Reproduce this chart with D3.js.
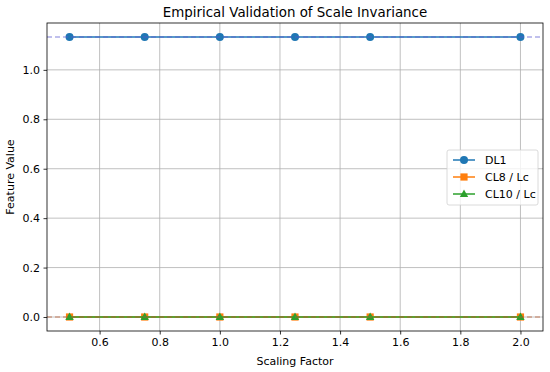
<!DOCTYPE html>
<html>
<head>
<meta charset="utf-8">
<script src="https://cdn.jsdelivr.net/npm/d3@7"></script>
<style>
  body { margin: 0; background: #fff; }
  text { font-family: "DejaVu Sans", sans-serif; fill: #000; }
</style>
</head>
<body>
<div id="chart"></div>
<script>
// data
const scales = [0.5, 0.75, 1.0, 1.25, 1.5, 2.0];
const dl1 = [1.133, 1.133, 1.133, 1.133, 1.133, 1.133];
const cl8 = [0, 0, 0, 0, 0, 0];
const cl10 = [0, 0, 0, 0, 0, 0];
const xTicks = [0.6, 0.8, 1.0, 1.2, 1.4, 1.6, 1.8, 2.0];
const yTicks = [0.0, 0.2, 0.4, 0.6, 0.8, 1.0];
const refLines = [{v: 1.133, color: "#5a5ad0"}, {v: 0, color: "#b8582e"}];

const series = [
    {name: "DL1", values: dl1, color: "#1f77b4", marker: "circle"},
    {name: "CL8 / Lc", values: cl8, color: "#ff7f0e", marker: "square"},
    {name: "CL10 / Lc", values: cl10, color: "#2ca02c", marker: "triangle"}
];

const width = 550, height = 372;
const m = {left: 47, right: 7, top: 23, bottom: 41};

const svg = d3.select("#chart").append("svg")
    .attr("width", width).attr("height", height);

const x = d3.scaleLinear().domain([0.425, 2.075]).range([m.left, width - m.right]);
const y = d3.scaleLinear().domain([-0.05665, 1.18965]).range([height - m.bottom, m.top]);

// grid
svg.append("g").selectAll("line").data(xTicks).enter().append("line")
    .attr("x1", d => x(d)).attr("x2", d => x(d))
    .attr("y1", m.top).attr("y2", height - m.bottom)
    .attr("stroke", "#b0b0b0").attr("stroke-width", 0.8);
svg.append("g").selectAll("line").data(yTicks).enter().append("line")
    .attr("y1", d => y(d)).attr("y2", d => y(d))
    .attr("x1", m.left).attr("x2", width - m.right)
    .attr("stroke", "#b0b0b0").attr("stroke-width", 0.8);

const line = d3.line().x(d => x(d[0])).y(d => y(d[1]));

function marker(g, type, color) {
    if (type == "circle") {
        g.append("circle").attr("r", 4).attr("fill", color);
    } else if (type == "square") {
        g.append("rect").attr("x", -3.6).attr("y", -3.6).attr("width", 7.2).attr("height", 7.2).attr("fill", color);
    } else {
        g.append("path").attr("d", "M0,-4.5L4.2,3L-4.2,3Z").attr("fill", color);
    }
}

series.forEach(function(s) {
    const pts = scales.map((v, i) => [v, s.values[i]]);
    svg.append("path").datum(pts)
        .attr("d", line).attr("fill", "none")
        .attr("stroke", s.color).attr("stroke-width", 1.5);
    svg.append("g").selectAll("g").data(pts).enter().append("g")
        .attr("transform", d => `translate(${x(d[0])},${y(d[1])})`)
        .each(function() { marker(d3.select(this), s.marker, s.color); });
});

// dashed reference lines
svg.append("g").selectAll("line").data(refLines).enter().append("line")
    .attr("x1", m.left).attr("x2", width - m.right)
    .attr("y1", d => y(d.v)).attr("y2", d => y(d.v))
    .attr("stroke", d => d.color).attr("stroke-width", 1.2)
    .attr("stroke-dasharray", "5,3").attr("opacity", 0.75);

// axes
const xAxis = svg.append("g").attr("transform", `translate(0,${height - m.bottom})`)
    .call(d3.axisBottom(x).tickValues(xTicks).tickFormat(d3.format(".1f")).tickSizeOuter(0).tickSize(3.5).tickPadding(3.5));
const yAxis = svg.append("g").attr("transform", `translate(${m.left},0)`)
    .call(d3.axisLeft(y).tickValues(yTicks).tickFormat(d3.format(".1f")).tickSizeOuter(0).tickSize(3.5).tickPadding(3.5));
[xAxis, yAxis].forEach(function(a) {
    a.select(".domain").remove();
    a.selectAll("text").attr("font-size", 11).attr("font-family", "DejaVu Sans, sans-serif").attr("fill", "#000");
    a.selectAll("line").attr("stroke", "#000").attr("stroke-width", 0.8);
});

svg.append("rect")
    .attr("x", m.left).attr("y", m.top)
    .attr("width", width - m.left - m.right).attr("height", height - m.top - m.bottom)
    .attr("fill", "none").attr("stroke", "#000").attr("stroke-width", 0.8);

// titles
svg.append("text").attr("x", (m.left + width - m.right) / 2).attr("y", 17)
    .attr("text-anchor", "middle").attr("font-size", 13.4).text("Empirical Validation of Scale Invariance");
svg.append("text").attr("x", (m.left + width - m.right) / 2).attr("y", 365)
    .attr("text-anchor", "middle").attr("font-size", 11).text("Scaling Factor");
svg.append("text").attr("transform", `translate(14,${(m.top + height - m.bottom) / 2}) rotate(-90)`)
    .attr("text-anchor", "middle").attr("font-size", 11).text("Feature Value");

// legend
const lg = svg.append("g").attr("transform", "translate(447,150)");
lg.append("rect").attr("width", 91).attr("height", 55).attr("rx", 2)
    .attr("fill", "#fff").attr("fill-opacity", 0.8).attr("stroke", "#d0d0d0").attr("stroke-width", 0.8);
series.forEach(function(s, i) {
    const row = lg.append("g").attr("transform", `translate(6,${10 + i * 17})`);
    row.append("line").attr("x1", 0).attr("x2", 22).attr("stroke", s.color).attr("stroke-width", 1.5);
    marker(row.append("g").attr("transform", "translate(11,0)"), s.marker, s.color);
    row.append("text").attr("x", 32).attr("y", 4).attr("font-size", 11).text(s.name);
});
</script>
</body>
</html>
